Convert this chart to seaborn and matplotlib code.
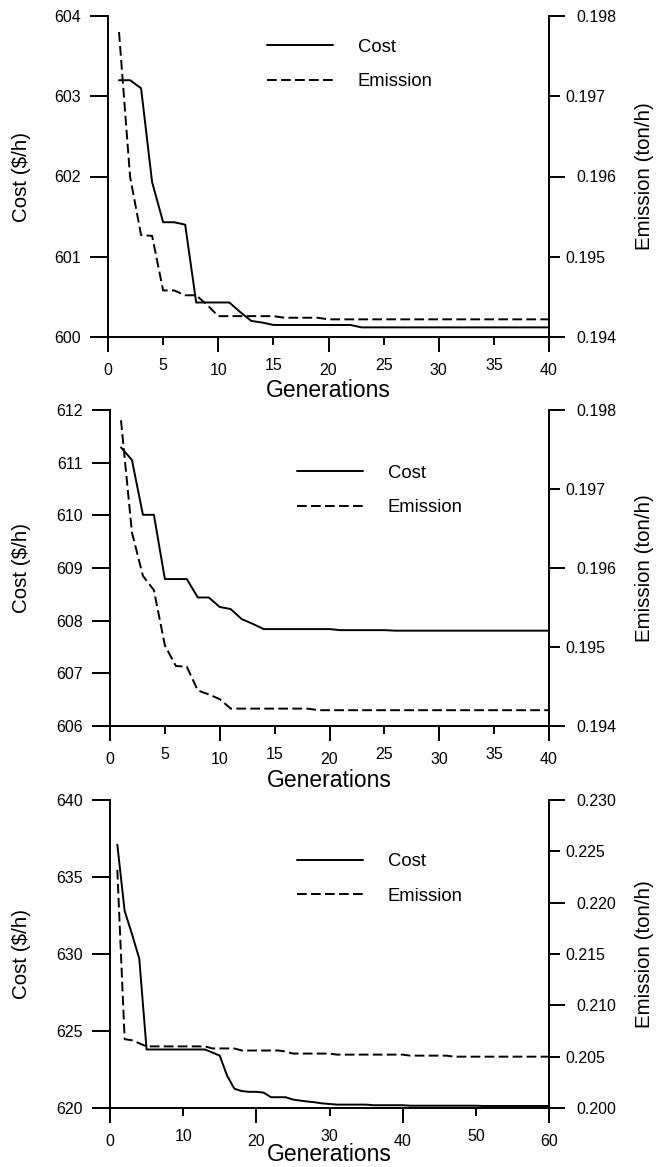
import matplotlib
matplotlib.use("Agg")
import matplotlib.pyplot as plt
import seaborn as sns
import pandas as pd

# ---------------- data ----------------
gens_a = list(range(1, 41))
gens_c = list(range(1, 61))

cost_a = [603.20, 603.20, 603.10, 601.93, 601.43, 601.43, 601.40, 600.43, 600.43, 600.43,
          600.43, 600.31, 600.20, 600.18, 600.15, 600.15, 600.15, 600.15, 600.15, 600.15,
          600.15, 600.15, 600.12, 600.12, 600.12, 600.12, 600.12, 600.12, 600.12, 600.12,
          600.12, 600.12, 600.12, 600.12, 600.12, 600.12, 600.12, 600.12, 600.12, 600.12]
emis_a = [0.19780, 0.19600, 0.19527, 0.19526, 0.19458, 0.19458, 0.19452, 0.19452, 0.19440, 0.19426,
          0.19426, 0.19426, 0.19426, 0.19426, 0.19426, 0.19424, 0.19424, 0.19424, 0.19424, 0.19422,
          0.19422, 0.19422, 0.19422, 0.19422, 0.19422, 0.19422, 0.19422, 0.19422, 0.19422, 0.19422,
          0.19422, 0.19422, 0.19422, 0.19422, 0.19422, 0.19422, 0.19422, 0.19422, 0.19422, 0.19422]

cost_b = [611.29, 611.05, 610.01, 610.01, 608.79, 608.79, 608.79, 608.44, 608.44, 608.26,
          608.22, 608.03, 607.94, 607.84, 607.84, 607.84, 607.84, 607.84, 607.84, 607.84,
          607.82, 607.82, 607.82, 607.82, 607.82, 607.81, 607.81, 607.81, 607.81, 607.81,
          607.81, 607.81, 607.81, 607.81, 607.81, 607.81, 607.81, 607.81, 607.81, 607.81]
emis_b = [0.19787, 0.19645, 0.19590, 0.19572, 0.19502, 0.19476, 0.19475, 0.19445, 0.19440, 0.19434,
          0.19422, 0.19422, 0.19422, 0.19422, 0.19422, 0.19422, 0.19422, 0.19422, 0.19420, 0.19420,
          0.19420, 0.19420, 0.19420, 0.19420, 0.19420, 0.19420, 0.19420, 0.19420, 0.19420, 0.19420,
          0.19420, 0.19420, 0.19420, 0.19420, 0.19420, 0.19420, 0.19420, 0.19420, 0.19420, 0.19420]

cost_c = [637.1, 632.8, 631.3, 629.7, 623.8, 623.8, 623.8, 623.8, 623.8, 623.8,
          623.8, 623.8, 623.8, 623.6, 623.4, 622.1, 621.25, 621.1, 621.05, 621.05,
          621.0, 620.7, 620.7, 620.7, 620.55, 620.48, 620.42, 620.37, 620.3, 620.26,
          620.22, 620.22, 620.22, 620.22, 620.22, 620.18, 620.18, 620.18, 620.18, 620.18,
          620.15, 620.15, 620.15, 620.15, 620.15, 620.15, 620.15, 620.15, 620.15, 620.15,
          620.13, 620.13, 620.13, 620.13, 620.13, 620.13, 620.13, 620.13, 620.13, 620.13]
emis_c = [0.2232, 0.2067, 0.2066, 0.2063, 0.2060, 0.2060, 0.2060, 0.2060, 0.2060, 0.2060,
          0.2060, 0.2060, 0.2060, 0.2058, 0.2058, 0.2058, 0.2058, 0.2056, 0.2056, 0.2056,
          0.2056, 0.2056, 0.2056, 0.2055, 0.2053, 0.2053, 0.2053, 0.2053, 0.2053, 0.2053,
          0.2052, 0.2052, 0.2052, 0.2052, 0.2052, 0.2052, 0.2052, 0.2052, 0.2052, 0.2052,
          0.2051, 0.2051, 0.2051, 0.2051, 0.2051, 0.2051, 0.2050, 0.2050, 0.2050, 0.2050,
          0.2050, 0.2050, 0.2050, 0.2050, 0.2050, 0.2050, 0.2050, 0.2050, 0.2050, 0.2050]

xmaj_a = [0, 10, 20, 30, 40]
xmin_a = [5, 15, 25, 35]
xmaj_c = [0, 20, 40, 60]
xmin_c = [10, 30, 50]

cticks_a = [600, 601, 602, 603, 604]
cticks_b = [606, 607, 608, 609, 610, 611, 612]
cticks_c = [620, 625, 630, 635, 640]

emaj_a = [0.194, 0.196, 0.198]
emin_a = [0.195, 0.197]
emaj_c = [0.200, 0.210, 0.220, 0.230]
emin_c = [0.205, 0.215, 0.225]

legend_labels = ["Cost", "Emission"]
xlabel = "Generations"
clabel = "Cost ($/h)"
elabel = "Emission (ton/h)"

# ---------------- style ----------------
sns.set_theme(style="ticks")
plt.rcParams['font.family'] = ['Liberation Sans', 'DejaVu Sans']
plt.rcParams['text.color'] = 'black'
plt.rcParams['axes.edgecolor'] = 'black'
plt.rcParams['xtick.color'] = 'black'
plt.rcParams['ytick.color'] = 'black'

W, H = 657, 1167
fig = plt.figure(figsize=(W / 100, H / 100), dpi=100)
fig.patch.set_facecolor('white')

LW = 1.4
DASH = (5.0, 2.2)
TICKFS = 11.5


def px_rect(l, t, r, b):
    return [l / W, 1 - b / H, (r - l) / W, (b - t) / H]


def panel(rect, gens, cost, emis, xlim, xmaj, xmin, clim, cticks, elim, emaj, emin,
          efmt, leg_left, leg_mid, xlab_base):
    ax = fig.add_axes(px_rect(*rect))
    df = pd.DataFrame({"gen": gens, "cost": cost, "emis": emis})
    sns.lineplot(data=df, x="gen", y="cost", ax=ax, color="black", lw=LW)
    ax2 = ax.twinx()
    sns.lineplot(data=df, x="gen", y="emis", ax=ax2, color="black", lw=LW)
    ax2.lines[0].set_dashes(DASH)

    ax.set_xlim(*xlim)
    ax.set_ylim(*clim)
    ax2.set_ylim(*elim)
    ax.set_xlabel("")
    ax.set_ylabel("")
    ax2.set_ylabel("")

    ax.set_xticks(xmaj, labels=[str(v) for v in xmaj])
    ax.set_xticks(xmin, labels=[str(v) for v in xmin], minor=True)
    ax.set_yticks(cticks, labels=[str(v) for v in cticks])
    ax.set_yticks([], minor=True)
    ax2.set_yticks(emaj, labels=[efmt.format(v) for v in emaj])
    ax2.set_yticks(emin, labels=[efmt.format(v) for v in emin], minor=True)

    for s in ["top", "right"]:
        ax.spines[s].set_visible(False)
    for s in ["top", "left", "bottom"]:
        ax2.spines[s].set_visible(False)
    for s in ax.spines.values():
        s.set_linewidth(1.4)
    for s in ax2.spines.values():
        s.set_linewidth(1.4)

    ax.tick_params(axis='x', which='major', direction='out', length=11, width=1.4,
                   pad=8.0, labelsize=TICKFS)
    ax.tick_params(axis='x', which='minor', direction='out', length=6, width=1.4,
                   pad=8.8, labelsize=TICKFS)
    ax.tick_params(axis='y', which='major', direction='out', length=13, width=1.4,
                   pad=6.5, labelsize=TICKFS)
    ax2.tick_params(axis='y', which='major', direction='out', length=11.5, width=1.4,
                    pad=8.0, labelsize=TICKFS)
    ax2.tick_params(axis='y', which='minor', direction='out', length=8, width=1.4,
                    pad=3.5, labelsize=TICKFS)

    l, t, r, b = rect
    fig.text(((l + r) / 2) / W, 1 - xlab_base / H, xlabel, ha='center', va='baseline',
             fontsize=16.5)
    fig.text(22 / W, 1 - ((t + b) / 2) / H, clabel, rotation=90, ha='center', va='center',
             fontsize=14.8)
    fig.text(645 / W, 1 - ((t + b) / 2) / H, elabel, rotation=90, ha='center', va='center',
             fontsize=14.8)

    fig.legend([ax.lines[0], ax2.lines[0]], legend_labels, loc='center left',
               bbox_to_anchor=(leg_left / W, 1 - leg_mid / H), frameon=False,
               borderpad=0, borderaxespad=0, handlelength=3.57, handletextpad=1.35,
               labelspacing=0.95, fontsize=13.3)
    return ax, ax2


panel((108, 16, 549, 337), gens_a, cost_a, emis_a, (0, 40), xmaj_a, xmin_a,
      (600, 604), cticks_a, (0.194, 0.198), emaj_a, emin_a, "{:.3f}", 267, 64.5, 397)
panel((110, 410, 549, 726), gens_a, cost_b, emis_b, (0, 40), xmaj_a, xmin_a,
      (606, 612), cticks_b, (0.194, 0.198), emaj_a, emin_a, "{:.3f}", 297, 490.5, 787)
panel((110, 800, 549, 1108), gens_c, cost_c, emis_c, (0, 60), xmaj_c, xmin_c,
      (620, 640), cticks_c, (0.200, 0.230), emaj_c, emin_c, "{:.3f}", 297, 879, 1161)

fig.savefig("out.png", dpi=100, facecolor='white')
